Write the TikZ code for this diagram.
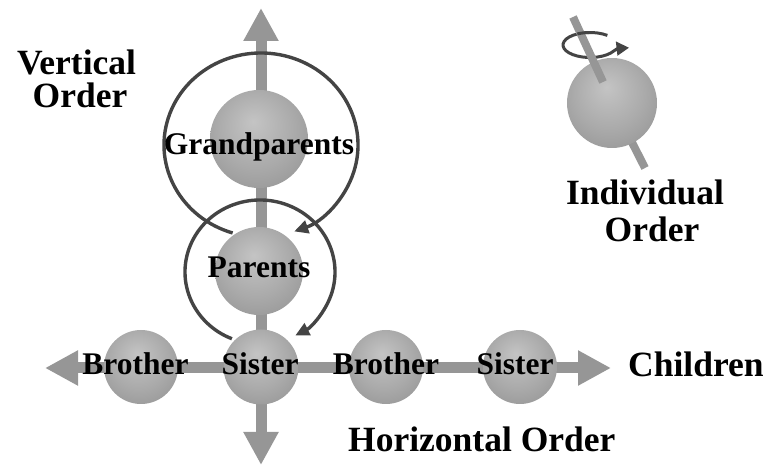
\documentclass[tikz,border=0pt]{standalone}
\usepackage{fontspec}
\setmainfont{Liberation Serif}
\usetikzlibrary{arrows.meta}
\definecolor{axisgray}{RGB}{150,150,150}
\definecolor{ringgray}{RGB}{68,68,68}
\definecolor{sphA}{RGB}{196,196,196}
\definecolor{sphB}{RGB}{170,170,170}
\definecolor{sphC}{RGB}{138,138,138}
\definecolor{sphD}{RGB}{118,118,118}
\pgfdeclareradialshading{sph}{\pgfpoint{-3bp}{9bp}}{color(0bp)=(sphA); color(20bp)=(sphB); color(42bp)=(sphC); color(50bp)=(sphD)}
\tikzset{
  axisarrow/.style={line width=11pt, draw=axisgray, {Triangle[length=33pt,width=33pt]}-{Triangle[length=33pt,width=33pt]}},
  ringarrow/.style={line width=3.4pt, draw=ringgray, -{Triangle[length=14pt,width=13pt]}},
  sphball/.style={circle, inner sep=0pt, shading=sph, draw=none},
  lbl/.style={font=\fontsize{31.5}{31.5}\selectfont\bfseries, inner sep=0pt, anchor=base},
  biglbl/.style={font=\fontsize{35.5}{36}\selectfont\bfseries, inner sep=0pt, anchor=base},
  spinaxis/.style={line width=8pt, draw=axisgray},
}
\begin{document}
\begin{tikzpicture}[x=1pt,y=1pt]
\useasboundingbox (0,0) rectangle (779,468);
% axes
\coordinate (vtop) at (261,460);
\coordinate (vbot) at (261,3);
\coordinate (hleft) at (45,100);
\coordinate (hright) at (611,100);
\draw[axisarrow] (vbot) -- (vtop);
\draw[axisarrow] (hleft) -- (hright);
% rotation rings
\coordinate (gring) at (261,323);
\coordinate (pring) at (260,196);
\draw[ringarrow] (gring) ++(253:97pt and 92pt) arc[start angle=253, end angle=-70, x radius=97pt, y radius=92pt];
\draw[ringarrow] (pring) ++(248:75pt and 72pt) arc[start angle=248, end angle=-62, x radius=75pt, y radius=72pt];
% spheres
\node[sphball, minimum size=98pt] (gp) at (259,329) {};
\node[sphball, minimum size=88pt] (par) at (259,197) {};
\node[sphball, minimum size=74pt] (b1) at (141,101) {};
\node[sphball, minimum size=75pt] (s1) at (261,101) {};
\node[sphball, minimum size=74pt] (b2) at (386,101) {};
\node[sphball, minimum size=74pt] (s2) at (520,101) {};
% labels in spheres
\node[lbl] (tgp) at (259,313) {Grandparents};
\node[lbl] (tpar) at (259,190) {Parents};
\node[lbl] (tb1) at (135.5,93) {Brother};
\node[lbl] (ts1) at (260,93) {Sister};
\node[lbl] (tb2) at (386,93) {Brother};
\node[lbl] (ts2) at (515,93) {Sister};
% individual order
\coordinate (ax1) at (573,451);
\coordinate (ax2) at (603,386);
\coordinate (ax3) at (612,365);
\coordinate (ax4) at (645,300);
\coordinate (spinc) at (590,423);
\draw[spinaxis] (ax3) -- (ax4);
\node[sphball, minimum size=90pt] (ind) at (612,365) {};
\draw[ringarrow, line width=3pt, -{Triangle[length=13pt,width=13pt]}] (spinc) ++(50:27pt and 12.5pt) arc[start angle=50, end angle=378, x radius=27pt, y radius=12.5pt];
\draw[spinaxis] (ax1) -- (ax2);
\draw[ringgray, line width=3pt] (spinc) ++(92:27pt and 12.5pt) arc[start angle=92, end angle=118, x radius=27pt, y radius=12.5pt];
% outer labels
\node[biglbl] (vo1) at (76.5,393) {Vertical};
\node[biglbl] (vo2) at (80,360) {Order};
\node[biglbl, anchor=base west] (ch) at (628,91) {Children};
\node[biglbl, anchor=base west] (ho) at (348,16) {Horizontal Order};
\node[biglbl] (io1) at (645,263) {Individual};
\node[biglbl] (io2) at (652,226) {Order};
\end{tikzpicture}
\end{document}
